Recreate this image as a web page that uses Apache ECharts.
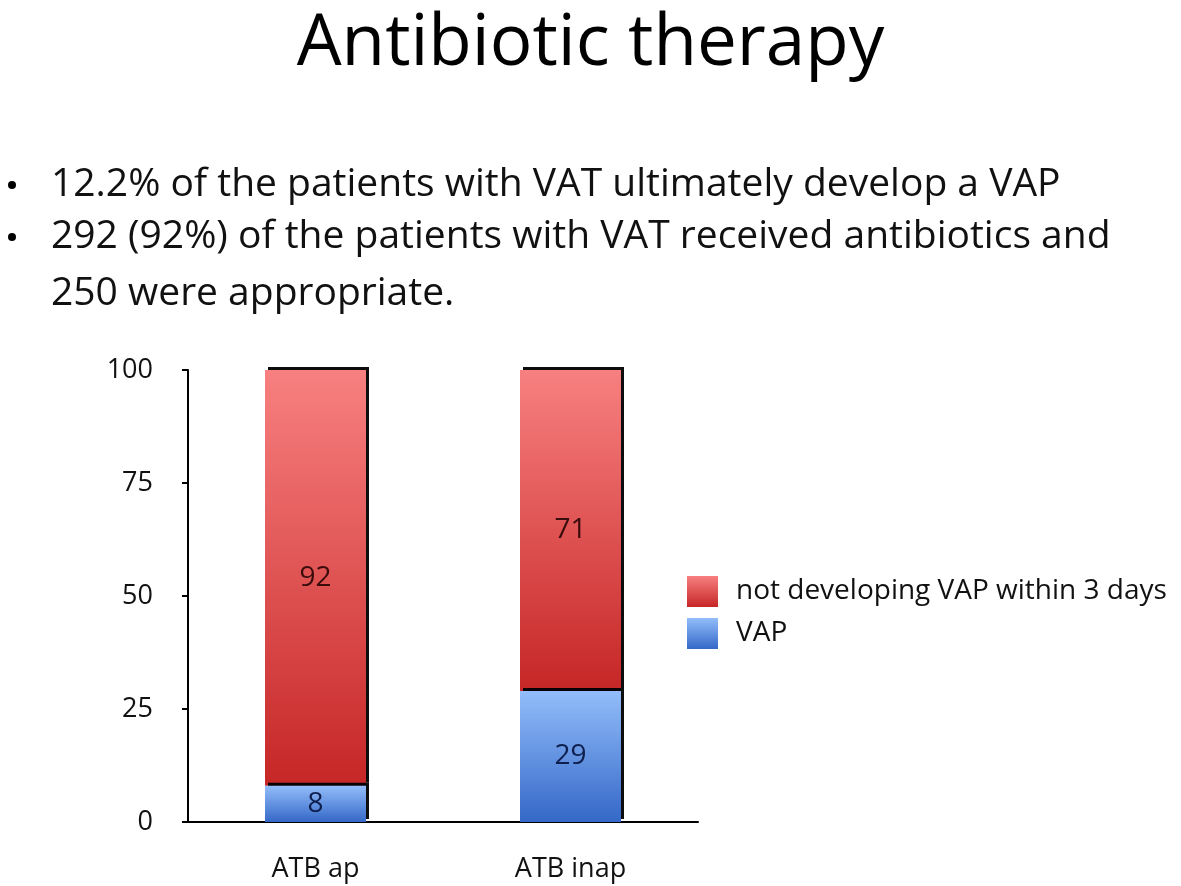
<!DOCTYPE html>
<html>
<head>
<meta charset="utf-8">
<script src="https://cdn.jsdelivr.net/npm/echarts@6/dist/echarts.min.js"></script>
<style>
html,body{margin:0;padding:0;background:#fff;}
#chart{width:1181px;height:886px;}
</style>
</head>
<body>
<div id="chart"></div>
<script>
var titleText = 'Antibiotic therapy';
var bulletLines = [
  '12.2% of the patients with VAT ultimately develop a VAP',
  '292 (92%) of the patients with VAT received antibiotics and',
  '250 were appropriate.'
];
var categories = ['ATB ap', 'ATB inap'];
var seriesNames = ['not developing VAP within 3 days', 'VAP'];
var notDevelopingValues = [92, 71];
var vapValues = [8, 29];
var yTicks = [0, 25, 50, 75, 100];

var FONT = '"Open Sans", "Noto Sans", sans-serif';
var chart = echarts.init(document.getElementById('chart'));

function grad(top, bottom) {
  return new echarts.graphic.LinearGradient(0, 0, 0, 1, [
    {offset: 0, color: top}, {offset: 1, color: bottom}
  ]);
}

var graphics = [{
  type: 'text', left: 'center', top: 9,
  style: {text: titleText, font: '71px ' + FONT, fill: '#000'}
}];
var bulletY = [185, 237, 294];
bulletLines.forEach(function (t, i) {
  if (i < 2) {
    graphics.push({type: 'circle', shape: {cx: 12, cy: bulletY[i], r: 4},
      style: {fill: '#000'}});
  }
  graphics.push({type: 'text', x: 51, y: bulletY[i],
    style: {text: t, font: '39px ' + FONT, fill: '#111', verticalAlign: 'middle'}});
});

var shadow = {shadowColor: 'rgba(0,0,0,0.95)', shadowBlur: 0, shadowOffsetX: 3, shadowOffsetY: -3};

chart.setOption({
  animation: false,
  backgroundColor: '#fff',
  graphic: graphics,
  grid: {left: 188, top: 370, width: 510, height: 452},
  legend: {
    orient: 'vertical', left: 682, top: 571,
    itemWidth: 31, itemHeight: 31, itemGap: 11,
    data: seriesNames,
    icon: 'rect',
    itemStyle: {shadowBlur: 0, shadowOffsetX: 0, shadowOffsetY: 0, shadowColor: 'rgba(0,0,0,0)', borderWidth: 0},
    textStyle: {fontFamily: FONT, fontSize: 28, color: '#111', padding: [0, 0, 0, 13]}
  },
  xAxis: {
    type: 'category', data: categories,
    axisLine: {lineStyle: {color: '#000', width: 2}},
    axisTick: {length: 6, lineStyle: {color: '#000', width: 2}},
    axisLabel: {fontFamily: FONT, fontSize: 27, color: '#111', margin: 34}
  },
  yAxis: {
    type: 'value', min: 0, max: 100, interval: 25,
    axisLine: {show: true, lineStyle: {color: '#000', width: 2}},
    axisTick: {show: true, length: 6, lineStyle: {color: '#000', width: 2}},
    splitLine: {show: false},
    axisLabel: {fontFamily: FONT, fontSize: 27, color: '#111', margin: 35,
      formatter: function (v) { return yTicks.indexOf(v) >= 0 ? String(v) : ''; }}
  },
  series: [{
    name: seriesNames[1], type: 'bar', stack: 'a', data: vapValues,
    barWidth: 101, z: 3,
    itemStyle: Object.assign({color: grad('#93bdfa', '#3468c8')}, shadow),
    label: {show: true, position: 'inside', fontFamily: FONT, fontSize: 28, color: '#0f1f4d'}
  }, {
    name: seriesNames[0], type: 'bar', stack: 'a', data: notDevelopingValues,
    barWidth: 101, z: 2,
    itemStyle: Object.assign({color: grad('#f88080', '#c62626')}, shadow),
    label: {show: true, position: 'inside', fontFamily: FONT, fontSize: 28, color: '#3a0c0c'}
  }]
});
</script>
</body>
</html>
